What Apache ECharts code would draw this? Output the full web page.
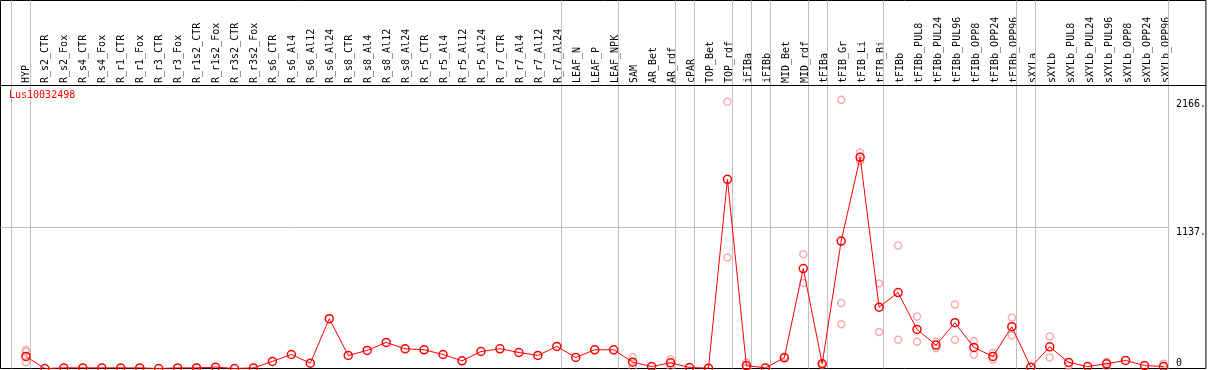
<!DOCTYPE html>
<html>
<head>
<meta charset="utf-8">
<script src="https://cdn.jsdelivr.net/npm/echarts@6/dist/echarts.min.js"></script>
<style>
html, body { margin: 0; padding: 0; background: #fff; }
#chart { width: 1209px; height: 370px; }
</style>
</head>
<body>
<div id="chart"></div>
<script>
var geneName = 'Lus10032498';

var categories = [
    'HYP',
    'R_s2_CTR', 'R_s2_Fox', 'R_s4_CTR', 'R_s4_Fox', 'R_r1_CTR', 'R_r1_Fox', 'R_r3_CTR', 'R_r3_Fox',
    'R_r1s2_CTR', 'R_r1s2_Fox', 'R_r3s2_CTR', 'R_r3s2_Fox',
    'R_s6_CTR', 'R_s6_Al4', 'R_s6_Al12', 'R_s6_Al24', 'R_s8_CTR', 'R_s8_Al4', 'R_s8_Al12', 'R_s8_Al24',
    'R_r5_CTR', 'R_r5_Al4', 'R_r5_Al12', 'R_r5_Al24', 'R_r7_CTR', 'R_r7_Al4', 'R_r7_Al12', 'R_r7_Al24',
    'LEAF_N', 'LEAF_P', 'LEAF_NPK', 'SAM', 'AR_Bet', 'AR_rdf', 'cPAR', 'TOP_Bet', 'TOP_rdf',
    'iFIBa', 'iFIBb', 'MID_Bet', 'MID_rdf', 'tFIBa', 'tFIB_Gr', 'tFIB_Li', 'tFIB_Bi', 'tFIBb',
    'tFIBb_PUL8', 'tFIBb_PUL24', 'tFIBb_PUL96', 'tFIBb_OPP8', 'tFIBb_OPP24', 'tFIBb_OPP96',
    'sXYLa', 'sXYLb', 'sXYLb_PUL8', 'sXYLb_PUL24', 'sXYLb_PUL96', 'sXYLb_OPP8', 'sXYLb_OPP24', 'sXYLb_OPP96'
];

// mean expression per sample (red line)
var meanValues = [
    97,
    0, 5, 5, 5, 5, 5, 0, 5, 5, 11, 0, 5,
    57, 113, 43, 402, 105, 146, 210, 159,
    151, 113, 62, 137, 159, 129, 105, 178,
    89, 151, 151, 51, 16, 46, 8, 3, 1525,
    24, 5, 86, 806, 38, 1027, 1703, 494, 612,
    315, 189, 369, 170, 97, 337,
    11, 175, 49, 16, 38, 65, 24, 16
];

// replicates (pale circles), null where hidden behind the mean
var rep1 = [
    150, null, null, null, null, null, null, null, null, 12,
    null, null, null, null, null, null, null, null, null, null,
    null, null, null, null, null, null, null, null, null, null,
    null, null, 92, null, 75, null, null, 2150, 49, null,
    95, 922, 45, 2166, 1741, 685, 992, 420, 216, 515,
    221, 124, 410, null, 259, 24, null, 54, null, null,
    38
];
var rep2 = [
    135, null, null, null, null, null, null, null, null, null,
    null, null, null, null, null, null, null, null, null, null,
    null, null, null, null, null, null, null, null, null, null,
    null, null, 11, null, 19, null, null, 895, 11, null,
    null, 690, 30, 528, 1673, 294, 232, 216, 164, 232,
    110, 70, 267, null, 89, null, null, 16, null, null,
    null
];
var rep3 = [
    50, null, null, null, null, null, null, null, null, null,
    null, null, null, null, null, null, null, null, null, null,
    null, null, null, null, null, null, null, null, null, null,
    null, null, null, null, null, null, null, null, null, null,
    null, null, null, 356, null, null, null, null, null, null,
    null, null, null, null, null, null, null, null, null, null,
    null
];

// last sample index of each tissue group (-1 = left edge)
var groupEnds = [-1, 0, 28, 31, 34, 35, 37, 38, 39, 41, 42, 45, 52, 53, 60];

var yTickValues = [0, 1137, 2166];
var yTickLabels = ['0', '1137.', '2166.'];
var yGridValue = 1137;

function renderExpressionChart(chartDivId) {
    var chart = echarts.init(document.getElementById(chartDivId));
    var mono = "'DejaVu Sans Mono', monospace";
    var xMin = -1.342, xMax = 62.237, yMax = 2967;

    var toPairs = function (arr) {
        var out = [];
        for (var i = 0; i < arr.length; i++) {
            if (arr[i] !== null) out.push([i, arr[i]]);
        }
        return out;
    };
    var tickLabel = function (v) {
        return yTickLabels[yTickValues.indexOf(v)];
    };

    var lines = groupEnds.map(function (k) {
        return { xAxis: k + 0.237 };
    });
    lines.push([{ coord: [xMin, yGridValue] }, { coord: [60.316, yGridValue] }]);
    lines.push([
        { coord: [xMin, 2281.7], lineStyle: { color: '#000' } },
        { coord: [xMax, 2281.7] }
    ]);

    var repStyle = {
        type: 'scatter',
        xAxisIndex: 0,
        yAxisIndex: 0,
        symbol: 'circle',
        symbolSize: 7,
        silent: true,
        z: 3,
        itemStyle: { color: 'rgba(0,0,0,0)', borderColor: '#f29a9a', borderWidth: 1.5 }
    };

    var options = {
        animation: false,
        backgroundColor: '#fff',
        title: {
            text: geneName,
            left: 9,
            top: 90,
            padding: 0,
            textStyle: { color: '#ff0000', fontSize: 10, fontWeight: 'normal', fontFamily: mono }
        },
        grid: [
            { left: 0.5, right: 0.5, top: 0.5, bottom: 1.5, show: true, borderColor: '#000', borderWidth: 1, backgroundColor: 'transparent' },
            { left: 16.5, right: 33.5, top: 85, height: 283 }
        ],
        xAxis: [
            { type: 'value', gridIndex: 0, min: xMin, max: xMax, show: false },
            {
                type: 'category',
                gridIndex: 1,
                position: 'top',
                data: categories,
                axisLine: { show: false },
                axisTick: { show: false },
                axisLabel: { interval: 0, rotate: 90, margin: 2, fontSize: 10, color: '#000', fontFamily: mono }
            }
        ],
        yAxis: [
            {
                type: 'value', gridIndex: 0, min: 0, max: yMax, position: 'right', offset: -31,
                axisLine: { show: false }, axisTick: { show: false }, splitLine: { show: false },
                axisLabel: {
                    customValues: yTickValues.filter(function (v) { return v > 0; }),
                    formatter: tickLabel, verticalAlign: 'top', margin: 1,
                    fontSize: 10, color: '#000', fontFamily: mono
                }
            },
            {
                type: 'value', gridIndex: 0, min: 0, max: yMax, position: 'right', offset: -31,
                axisLine: { show: false }, axisTick: { show: false }, splitLine: { show: false },
                axisLabel: {
                    customValues: yTickValues.filter(function (v) { return v === 0; }),
                    formatter: tickLabel, verticalAlign: 'bottom', margin: 1,
                    fontSize: 10, color: '#000', fontFamily: mono
                }
            },
            { type: 'value', gridIndex: 1, show: false }
        ],
        series: [
            {
                type: 'line',
                xAxisIndex: 0,
                yAxisIndex: 0,
                data: [],
                z: 1,
                markLine: {
                    silent: true,
                    symbol: 'none',
                    z: 1,
                    label: { show: false },
                    lineStyle: { color: '#c0c0c0', width: 1, type: 'solid' },
                    emphasis: { disabled: true },
                    data: lines
                }
            },
            Object.assign({ data: toPairs(rep1) }, repStyle),
            Object.assign({ data: toPairs(rep2) }, repStyle),
            Object.assign({ data: toPairs(rep3) }, repStyle),
            {
                type: 'line',
                xAxisIndex: 0,
                yAxisIndex: 0,
                data: toPairs(meanValues),
                z: 4,
                symbol: 'circle',
                symbolSize: 8,
                showAllSymbol: true,
                silent: true,
                lineStyle: { color: '#ff0000', width: 1 },
                itemStyle: { color: 'rgba(0,0,0,0)', borderColor: '#ff0000', borderWidth: 1.5 }
            }
        ]
    };
    chart.setOption(options);
}

renderExpressionChart('chart');
</script>
</body>
</html>
